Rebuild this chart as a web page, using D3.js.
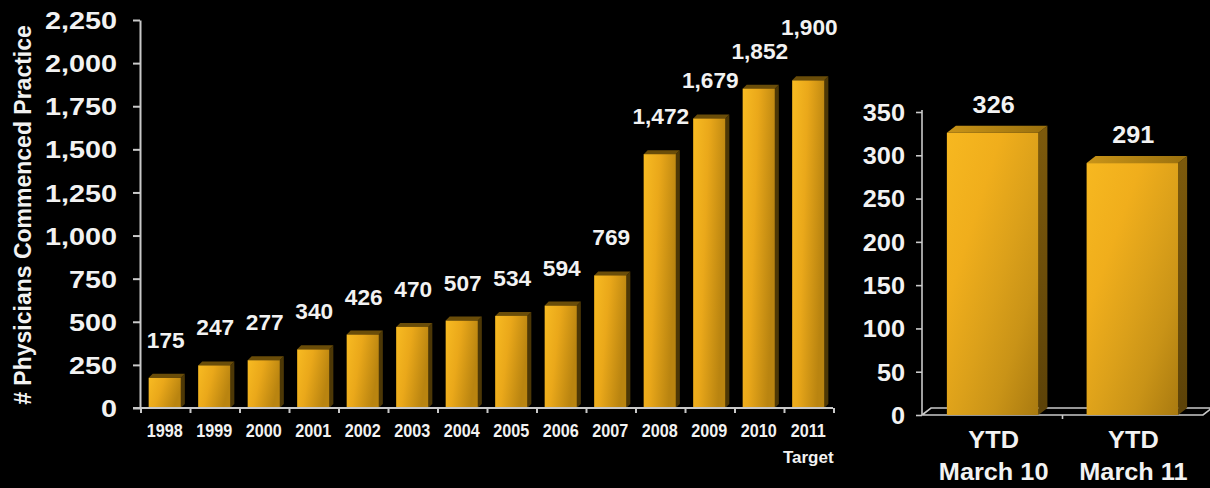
<!DOCTYPE html>
<html>
<head>
<meta charset="utf-8">
<script src="https://cdn.jsdelivr.net/npm/d3@7"></script>
<style>
  html, body { margin: 0; padding: 0; background: #000; }
  svg { display: block; }
  text { font-family: "Liberation Sans", Arial, Helvetica, sans-serif; font-weight: bold; fill: #f2f2f2; }
</style>
</head>
<body>
<svg id="chart" width="1210" height="488"></svg>
<script>
// Physicians commenced practice per year (2011 is a target)
const years = ["1998", "1999", "2000", "2001", "2002", "2003", "2004", "2005", "2006", "2007", "2008", "2009", "2010", "2011"];
const physicians = [175, 247, 277, 340, 426, 470, 507, 534, 594, 769, 1472, 1679, 1852, 1900];
const yearTicks = [0, 250, 500, 750, 1000, 1250, 1500, 1750, 2000, 2250];
const yAxisTitle = "# Physicians Commenced Practice";
const targetNote = "Target";

// Year-to-date comparison
const ytdCategories = ["YTD March 10", "YTD March 11"];
const ytdLines = [["YTD", "March 10"], ["YTD", "March 11"]];
const ytdValues = [326, 291];
const ytdTicks = [0, 50, 100, 150, 200, 250, 300, 350];

const svg = d3.select("#chart");
const fmt = d3.format(",");
const axisColor = "#c9c9c9";

// ---------- gradients ----------
const defs = svg.append("defs");
function grad(id, stops, x1, y1, x2, y2) {
  const g = defs.append("linearGradient").attr("id", id)
    .attr("x1", x1).attr("y1", y1).attr("x2", x2).attr("y2", y2);
  stops.forEach(([o, c]) => g.append("stop").attr("offset", o).attr("stop-color", c));
}
grad("frontL", [["0%", "#f8bb22"], ["45%", "#eaa81a"], ["100%", "#b98410"]], "0", "0", "1", "0.35");
grad("frontR", [["0%", "#f7b820"], ["30%", "#f0ae1c"], ["55%", "#dba01a"], ["75%", "#c99317"], ["100%", "#a97a10"]], "0", "0", "1", "1");
grad("topR", [["0%", "#c99418"], ["100%", "#9a700e"]], "0", "0", "1", "0");
grad("sideR", [["0%", "#7d5a0c"], ["100%", "#5c4208"]], "0", "0", "0", "1");

// helper: text with horizontal stretch
function label(g, x, y, str, size, sx, anchor) {
  return g.append("text")
    .attr("transform", `translate(${x},${y}) scale(${sx},1)`)
    .attr("text-anchor", anchor || "middle")
    .style("font-size", size + "px")
    .text(str);
}

// ---------- left chart ----------
const L = { left: 140, right: 833, top: 20, bottom: 408 };
const x = d3.scaleBand().domain(years).range([L.left, L.right]).paddingInner(0.35).paddingOuter(0.175);
const y = d3.scaleLinear().domain([0, 2250]).range([L.bottom, L.top]);
const gL = svg.append("g");

// 3-D bars
const dxL = 4, dyL = 4;
const barsL = gL.selectAll("g.bar").data(years.map((k, i) => ({ k, v: physicians[i] })))
  .join("g").attr("class", "bar");
barsL.append("polygon")
  .attr("points", d => {
    const x0 = x(d.k) + x.bandwidth(), yt = y(d.v), yb = y(0);
    return [[x0, yt], [x0 + dxL, yt - dyL], [x0 + dxL, yb - dyL], [x0, yb]].join(" ");
  })
  .attr("fill", "#4d3806");
barsL.append("polygon")
  .attr("points", d => {
    const x0 = x(d.k), x1 = x0 + x.bandwidth(), yt = y(d.v);
    return [[x0, yt], [x0 + dxL, yt - dyL], [x1 + dxL, yt - dyL], [x1, yt]].join(" ");
  })
  .attr("fill", "#6a4d09");
barsL.append("rect")
  .attr("x", d => x(d.k)).attr("y", d => y(d.v))
  .attr("width", x.bandwidth()).attr("height", d => y(0) - y(d.v))
  .attr("fill", "url(#frontL)");

// value labels: sit above each bar, stepping up only when a label would
// run into its left neighbour
const labelSx = 1.03, lineGap = 24;
let prev = null;
barsL.each(function (d) {
  const cx = x(d.k) + x.bandwidth() / 2 + 1;
  let base = y(d.v) - 30;
  const t = label(d3.select(this), cx, base, fmt(d.v), 22, labelSx);
  const w = t.node().getComputedTextLength() * labelSx;
  if (prev && (prev.w + w) / 2 > cx - prev.cx && base > prev.base - lineGap) {
    base = prev.base - lineGap;
    t.attr("transform", `translate(${cx},${base}) scale(${labelSx},1)`);
  }
  prev = { cx, w, base };
});

// y axis
const yAxisL = gL.append("g").attr("transform", `translate(${L.left},0)`)
  .call(d3.axisLeft(y).tickValues(yearTicks).tickFormat(fmt).tickSize(7).tickSizeOuter(0));
yAxisL.select(".domain").attr("stroke", axisColor).attr("stroke-width", 2);
yAxisL.selectAll(".tick line").attr("stroke", axisColor).attr("stroke-width", 2);
yAxisL.selectAll(".tick text")
  .attr("x", null).attr("dy", "0.36em")
  .attr("transform", "translate(-23,0) scale(1.2,1)")
  .attr("text-anchor", "end")
  .style("font-size", "24px").attr("fill", "#f2f2f2");

// x axis with boundary ticks
gL.append("line").attr("x1", L.left - 7).attr("x2", L.right).attr("y1", L.bottom).attr("y2", L.bottom)
  .attr("stroke", axisColor).attr("stroke-width", 2);
gL.selectAll("line.xt").data(d3.range(years.length + 1)).join("line").attr("class", "xt")
  .attr("x1", i => L.left + 1 + i * x.step()).attr("x2", i => L.left + 1 + i * x.step())
  .attr("y1", L.bottom).attr("y2", L.bottom + 5)
  .attr("stroke", axisColor).attr("stroke-width", 2);
years.forEach(k => label(gL, x(k) + x.bandwidth() / 2, 437, k, 18, 0.9));
label(gL, x("2011") + x.bandwidth() / 2, 463, targetNote, 17, 1);

// axis title
gL.append("text")
  .attr("transform", "translate(31,215) rotate(-90)")
  .attr("text-anchor", "middle")
  .style("font-size", "23px")
  .text(yAxisTitle);

// ---------- right chart ----------
const R = { left: 922, right: 1203, top: 112, bottom: 415 };
const x2 = d3.scaleBand().domain(ytdCategories).range([R.left, R.right]).paddingInner(0.345).paddingOuter(0.178);
const y2 = d3.scaleLinear().domain([0, 350]).range([R.bottom, R.top]);
const gR = svg.append("g");
const dxR = 9, dyR = 7;

// floor
gR.append("path")
  .attr("d", `M${R.left},${R.bottom} L${R.right},${R.bottom} L${R.right + dxR},${R.bottom - dyR} M${R.left},${R.bottom} L${R.left + dxR},${R.bottom - dyR} L${R.right + dxR},${R.bottom - dyR}`)
  .attr("fill", "none").attr("stroke", axisColor).attr("stroke-width", 1.6);
const mid = (R.left + R.right) / 2;
gR.append("line").attr("x1", mid).attr("x2", mid).attr("y1", R.bottom).attr("y2", R.bottom + 4)
  .attr("stroke", axisColor).attr("stroke-width", 1.6);

const barsR = gR.selectAll("g.bar").data(ytdCategories.map((k, i) => ({ k, v: ytdValues[i], i })))
  .join("g").attr("class", "bar");
barsR.append("polygon")
  .attr("points", d => {
    const x1 = x2(d.k) + x2.bandwidth(), yt = y2(d.v), yb = y2(0);
    return [[x1, yt], [x1 + dxR, yt - dyR], [x1 + dxR, yb - dyR], [x1, yb]].join(" ");
  })
  .attr("fill", "url(#sideR)");
barsR.append("polygon")
  .attr("points", d => {
    const x0 = x2(d.k), x1 = x0 + x2.bandwidth(), yt = y2(d.v);
    return [[x0, yt], [x0 + dxR, yt - dyR], [x1 + dxR, yt - dyR], [x1, yt]].join(" ");
  })
  .attr("fill", "url(#topR)");
barsR.append("rect")
  .attr("x", d => x2(d.k)).attr("y", d => y2(d.v))
  .attr("width", x2.bandwidth()).attr("height", d => y2(0) - y2(d.v))
  .attr("fill", "url(#frontR)");
barsR.each(function (d) {
  label(d3.select(this), x2(d.k) + x2.bandwidth() / 2 + 1, y2(d.v) - 20, fmt(d.v), 24, 1.05);
  const cx = x2(d.k) + x2.bandwidth() / 2 + 1;
  label(d3.select(this), cx, 448, ytdLines[d.i][0], 23, 1.1);
  label(d3.select(this), cx, 480, ytdLines[d.i][1], 23, 1.1);
});

// y axis
const yAxisR = gR.append("g").attr("transform", `translate(${R.left},0)`)
  .call(d3.axisLeft(y2).tickValues(ytdTicks).tickSize(6).tickSizeOuter(0));
yAxisR.select(".domain").attr("stroke", axisColor).attr("stroke-width", 1.6)
  .attr("d", `M0,${R.top - 2}V${R.bottom}`);
yAxisR.selectAll(".tick line").attr("stroke", axisColor).attr("stroke-width", 1.6);
yAxisR.selectAll(".tick text")
  .attr("x", null).attr("dy", "0.36em")
  .attr("transform", "translate(-17,0) scale(1.1,1)")
  .attr("text-anchor", "end")
  .style("font-size", "23px").attr("fill", "#f2f2f2");
</script>
</body>
</html>
